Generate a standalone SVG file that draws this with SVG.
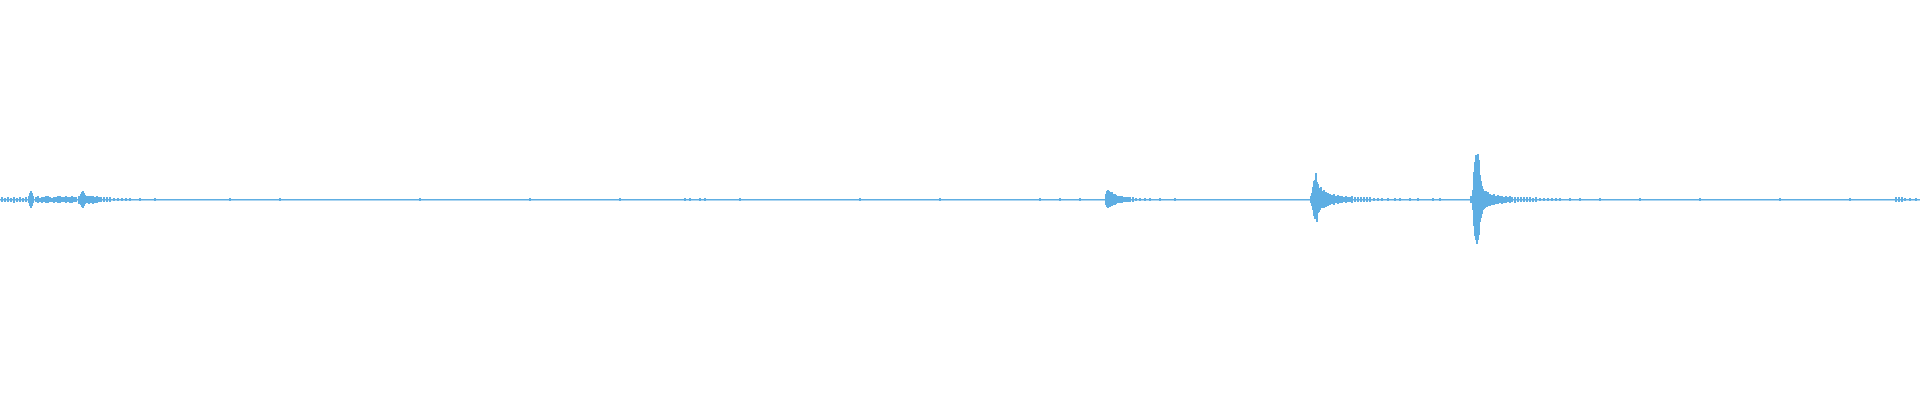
<svg xmlns="http://www.w3.org/2000/svg" width="1920" height="400" viewBox="0 0 1920 400">
<style>.w{stroke:#5eaee3;stroke-width:2;fill:none}</style>
<rect width="1920" height="400" fill="#fff"/>
<g id="waveform">
<rect x="0" y="199" width="1920" height="1.5" fill="#5eaee3"/>
<path class="w" d="M2 197V202M5 198V202M8 197V202M11 198V202M14 197V203M17 198V202M20 197V202M23 198V202M26 197V202M29 196V203M30 193V206M31 191V208M32 193V206M33 196V203M36 197V202M38 196V203M40 198V202M42 197V203M44 197V202M46 196V203M48 196V203M50 197V202M52 198V202M54 197V203M56 197V202M58 196V203M60 196V203M62 197V202M64 197V202M66 196V203M68 197V202M70 197V203M72 196V203M74 197V202M76 197V202M79 196V204M81 194V205M82 192V207M83 191V208M84 193V206M85 195V204M87 196V203M89 196V204M91 196V203M93 196V204M95 197V203M97 196V203M99 197V202M101 197V202M104 197V202M107 197V202M110 197V202M114 198V201M118 198V201M122 198V201M126 198V201M130 198V201M140 198V201M155 198V201M230 198V201M280 198V201M420 198V201M530 198V201M620 198V201M685 198V201M690 198V201M700 198V201M705 198V201M740 198V201M860 198V201M940 198V201M1040 198V201M1060 198V201M1080 198V201"/>
<path class="w" d="M1106 194V205M1107 191V207M1108 190V208M1109 191V207M1110 192V207M1111 193V206M1112 192V206M1113 194V205M1114 195V204M1115 194V205M1116 195V204M1118 196V203M1120 196V203M1122 196V203M1124 197V202M1126 197V202M1128 197V202M1130 197V202M1133 197V202M1136 198V201M1140 198V201M1145 198V201M1150 198V201M1160 198V201M1175 198V201"/>
<path class="w" d="M1311 196V203M1312 193V206M1313 187V210M1314 181V216M1315 180V219M1316 173V219M1317 182V222M1318 184V213M1319 188V212M1320 190V210M1321 187V208M1322 191V207M1323 192V208M1324 190V208M1325 193V206M1326 192V207M1327 194V205M1328 193V206M1329 195V204M1330 194V205M1332 195V204M1334 194V205M1336 196V203M1338 195V204M1340 196V203M1342 196V203M1344 197V202M1346 196V203M1348 197V202M1350 197V202M1352 196V203M1355 197V202M1358 197V202M1361 197V202M1364 197V202M1367 197V202M1370 197V202M1374 198V201M1378 198V201M1382 198V201M1388 198V201M1395 198V201M1400 198V201M1410 198V201M1418 198V201M1433 198V201M1440 198V201"/>
<path class="w" d="M1471 196V203M1473 190V210M1474 172V226M1475 162V236M1476 155V240M1477 158V244M1478 154V240M1479 160V235M1480 175V222M1481 181V218M1482 186V214M1483 189V210M1484 191V209M1485 192V208M1486 191V207M1487 193V207M1488 192V206M1490 194V206M1492 195V205M1494 194V205M1496 196V204M1498 195V204M1500 196V203M1502 196V204M1504 197V203M1506 196V203M1508 197V202M1510 196V203M1512 197V202M1515 197V203M1518 197V202M1521 197V202M1524 197V202M1527 197V202M1530 197V202M1533 198V202M1536 197V202M1540 198V201M1544 198V201M1548 198V201M1552 198V201M1556 198V201M1560 198V201M1570 198V201M1580 198V201M1600 198V201M1640 198V201M1700 198V201M1780 198V201M1850 198V201M1896 197V202M1899 197V202M1902 197V202M1905 198V201M1910 198V201M1916 198V201"/>
</g>
</svg>
